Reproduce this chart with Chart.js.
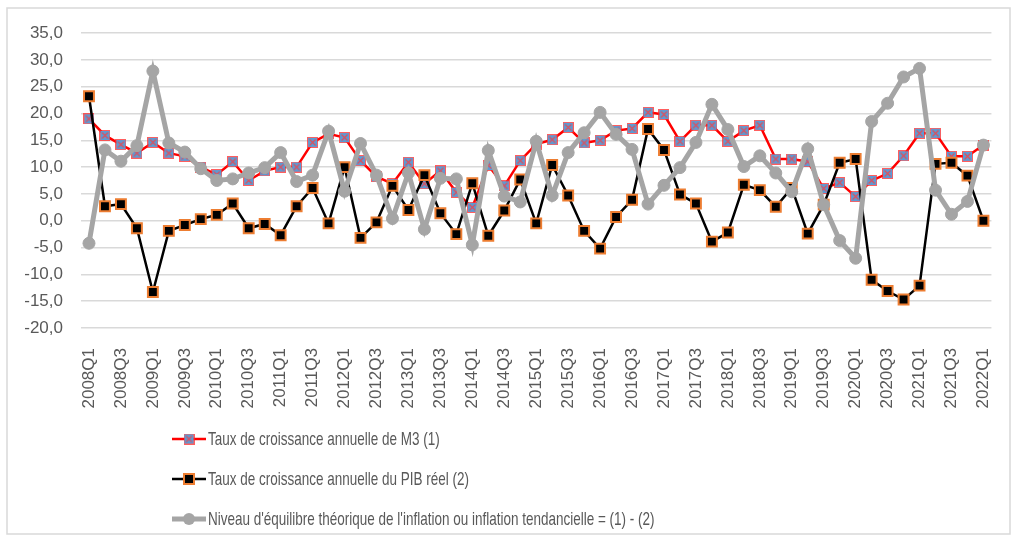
<!DOCTYPE html>
<html>
<head>
<meta charset="utf-8">
<script src="https://cdn.jsdelivr.net/npm/chart.js@4/dist/chart.umd.min.js"></script>
<style>
  html, body { margin: 0; padding: 0; background: #fff; }
</style>
</head>
<body>
<canvas id="chartM3" width="1016" height="539"></canvas>
<script>
const quarters = [
  '2008Q1', '2008Q2', '2008Q3', '2008Q4', '2009Q1', '2009Q2', '2009Q3', '2009Q4',
  '2010Q1', '2010Q2', '2010Q3', '2010Q4', '2011Q1', '2011Q2', '2011Q3', '2011Q4',
  '2012Q1', '2012Q2', '2012Q3', '2012Q4', '2013Q1', '2013Q2', '2013Q3', '2013Q4',
  '2014Q1', '2014Q2', '2014Q3', '2014Q4', '2015Q1', '2015Q2', '2015Q3', '2015Q4',
  '2016Q1', '2016Q2', '2016Q3', '2016Q4', '2017Q1', '2017Q2', '2017Q3', '2017Q4',
  '2018Q1', '2018Q2', '2018Q3', '2018Q4', '2019Q1', '2019Q2', '2019Q3', '2019Q4',
  '2020Q1', '2020Q2', '2020Q3', '2020Q4', '2021Q1', '2021Q2', '2021Q3', '2021Q4',
  '2022Q1'
];

// (1) taux de croissance annuelle de M3
const m3Growth = [
  19.0, 15.9, 14.2, 12.6, 14.6, 12.6, 12.0, 10.0, 8.6, 11.0,
  7.5, 9.3, 10.0, 10.0, 14.6, 16.2, 15.5, 11.2, 8.2, 6.9,
  10.9, 6.9, 9.3, 5.3, 2.5, 10.3, 6.5, 11.2, 14.3, 15.1,
  17.4, 14.5, 15.0, 16.8, 17.2, 20.2, 19.8, 14.8, 17.8, 17.8,
  14.8, 16.8, 17.8, 11.5, 11.5, 11.0, 6.0, 7.1, 4.5, 7.5,
  8.8, 12.1, 16.3, 16.3, 12.0, 12.0, 14.1
];

// (2) taux de croissance annuelle du PIB reel
const gdpGrowth = [
  23.2, 2.7, 3.1, -1.4, -13.3, -1.9, -0.8, 0.3, 1.1, 3.2,
  -1.4, -0.6, -2.7, 2.7, 6.1, -0.5, 10.0, -3.2, -0.3, 6.5,
  2.0, 8.5, 1.4, -2.5, 7.0, -2.8, 1.9, 7.7, -0.5, 10.4,
  4.7, -1.9, -5.2, 0.7, 3.9, 17.1, 13.2, 4.9, 3.2, -3.9,
  -2.2, 6.7, 5.7, 2.6, 6.1, -2.4, 3.0, 10.8, 11.5, -11.0,
  -13.1, -14.7, -12.1, 10.6, 10.8, 8.4, 0.0
];

// (1) - (2)
const trendInflation = [
  -4.2, 13.2, 11.1, 14.0, 27.9, 14.5, 12.8, 9.7, 7.5, 7.8,
  8.9, 9.9, 12.7, 7.3, 8.5, 16.7, 5.5, 14.4, 8.5, 0.4,
  8.9, -1.6, 7.9, 7.8, -4.5, 13.1, 4.6, 3.5, 14.8, 4.7,
  12.7, 16.4, 20.2, 16.1, 13.3, 3.1, 6.6, 9.9, 14.6, 21.7,
  17.0, 10.1, 12.1, 8.9, 5.4, 13.4, 3.0, -3.7, -7.0, 18.5,
  21.9, 26.8, 28.4, 5.7, 1.2, 3.6, 14.1
];

const seriesNames = [
  'Taux de croissance annuelle de M3 (1)',
  'Taux de croissance annuelle du PIB réel (2)',
  "Niveau d'équilibre théorique de l'inflation ou inflation tendancielle = (1) - (2)"
];

const textColor = '#595959';
const fontFamily = '"Liberation Sans", Arial, sans-serif';

// blue square with red cross, like the Excel marker
function m3Marker() {
  const c = document.createElement('canvas');
  c.width = c.height = 11;
  const g = c.getContext('2d');
  g.fillStyle = '#5b9bd5';
  g.fillRect(1, 1, 9, 9);
  g.strokeStyle = 'rgba(255,40,40,0.75)';
  g.lineWidth = 1;
  g.strokeRect(0.5, 0.5, 10, 10);
  g.strokeStyle = 'rgba(255,60,60,0.8)';
  g.lineWidth = 1.2;
  g.beginPath();
  g.moveTo(2.5, 2.5); g.lineTo(8.5, 8.5);
  g.moveTo(8.5, 2.5); g.lineTo(2.5, 8.5);
  g.stroke();
  return c;
}
const m3Point = m3Marker();

const framePlugin = {
  id: 'frame',
  beforeDraw(chart) {
    const ctx = chart.ctx;
    ctx.save();
    ctx.strokeStyle = '#d9d9d9';
    ctx.lineWidth = 1.5;
    ctx.strokeRect(7, 8, 1003, 526);
    ctx.restore();
  }
};

// legend stacked one entry per row, under the axis
const stackedLegend = {
  id: 'stackedLegend',
  afterDraw(chart) {
    const ctx = chart.ctx;
    ctx.save();
    chart.data.datasets.forEach((ds, i) => {
      const y = 439 + i * 40;
      ctx.strokeStyle = ds.borderColor;
      ctx.lineWidth = ds.borderWidth;
      ctx.beginPath();
      ctx.moveTo(172, y);
      ctx.lineTo(206, y);
      ctx.stroke();
      if (i === 0) {
        ctx.drawImage(m3Point, 189 - 5.5, y - 5.5);
      } else if (i === 1) {
        ctx.fillStyle = '#000';
        ctx.strokeStyle = '#ed7d31';
        ctx.lineWidth = 2;
        ctx.fillRect(184, y - 5, 10, 10);
        ctx.strokeRect(184, y - 5, 10, 10);
      } else {
        ctx.fillStyle = '#a5a5a5';
        ctx.beginPath();
        ctx.arc(189, y, 6, 0, Math.PI * 2);
        ctx.fill();
      }
      ctx.font = '19px ' + fontFamily;
      ctx.fillStyle = textColor;
      ctx.textBaseline = 'middle';
      const w = ctx.measureText(ds.label).width;
      ctx.fillText(ds.label, 208, y + 1, w * 0.71);
    });
    ctx.restore();
  }
};

new Chart(document.getElementById('chartM3'), {
  type: 'line',
  data: {
    labels: quarters,
    datasets: [{
      label: seriesNames[0],
      data: m3Growth,
      borderColor: '#ff0000',
      borderWidth: 2.5,
      pointStyle: m3Point,
      order: 3
    }, {
      label: seriesNames[1],
      data: gdpGrowth,
      borderColor: '#000000',
      borderWidth: 2.5,
      pointStyle: 'rect',
      pointRadius: 7,
      pointBackgroundColor: '#000000',
      pointBorderColor: '#ed7d31',
      pointBorderWidth: 2,
      order: 2
    }, {
      label: seriesNames[2],
      data: trendInflation,
      borderColor: '#a5a5a5',
      borderWidth: 5,
      pointStyle: 'circle',
      pointRadius: 6,
      pointBackgroundColor: '#a5a5a5',
      pointBorderColor: '#a5a5a5',
      pointBorderWidth: 1,
      order: 1
    }]
  },
  options: {
    responsive: false,
    animation: false,
    events: [],
    layout: {
      padding: { left: 0, right: 19, top: 33, bottom: 130 }
    },
    plugins: {
      legend: { display: false },
      tooltip: { enabled: false }
    },
    scales: {
      x: {
        offset: true,
        grid: { display: false },
        border: { display: false },
        ticks: {
          autoSkip: false,
          maxRotation: 90,
          minRotation: 90,
          padding: 12,
          color: textColor,
          font: { family: fontFamily, size: 17 },
          callback(value, index) {
            return index % 2 === 0 ? this.getLabelForValue(value) : '';
          }
        },
        afterFit(scale) { scale.height = 81; }
      },
      y: {
        min: -20,
        max: 35,
        grid: { color: '#d9d9d9', lineWidth: 1.5, drawTicks: false },
        border: { display: false },
        ticks: {
          stepSize: 5,
          padding: 18,
          color: textColor,
          font: { family: fontFamily, size: 17 },
          callback: v => v.toFixed(1).replace('.', ',')
        },
        afterFit(scale) { scale.width = 81; }
      }
    }
  },
  plugins: [framePlugin, stackedLegend]
});
</script>
</body>
</html>
